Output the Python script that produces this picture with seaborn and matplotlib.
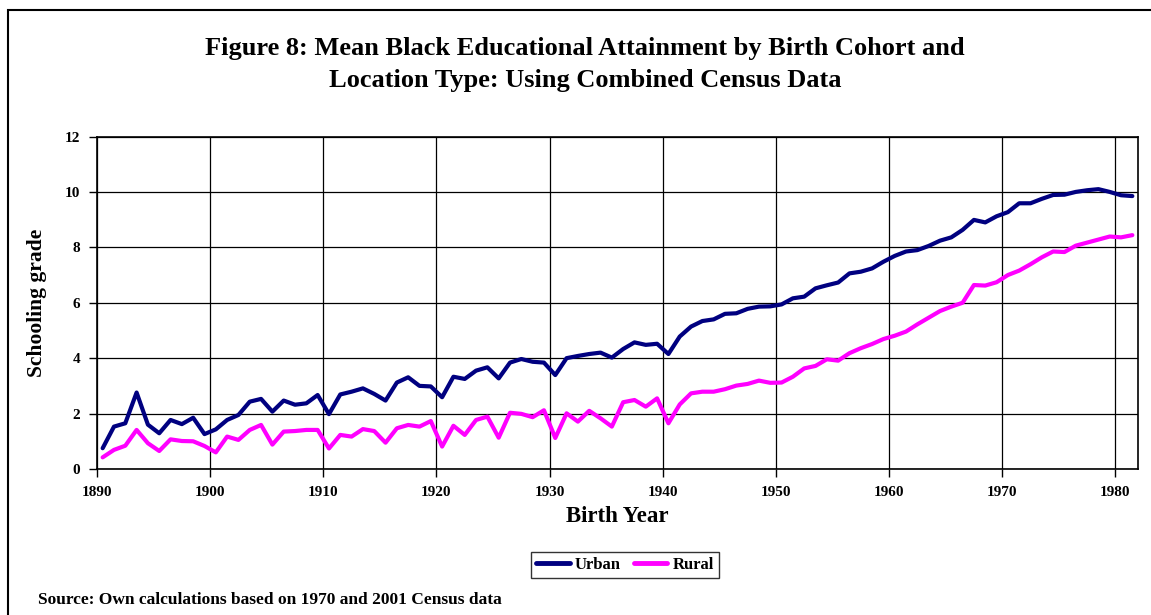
import numpy as np
import pandas as pd
import matplotlib
matplotlib.use("Agg")
import matplotlib.pyplot as plt
import seaborn as sns
from matplotlib.patches import Rectangle
from matplotlib.lines import Line2D

years = list(range(1890, 1982))
urban = [0.75, 1.53, 1.65, 2.76, 1.60, 1.29, 1.77, 1.62, 1.85, 1.26,
         1.43, 1.77, 1.95, 2.43, 2.53, 2.07, 2.47, 2.32, 2.37, 2.67,
         1.98, 2.69, 2.79, 2.91, 2.71, 2.47, 3.12, 3.31, 3.00, 2.98,
         2.59, 3.33, 3.25, 3.55, 3.67, 3.27, 3.84, 3.97, 3.87, 3.84,
         3.39, 4.00, 4.08, 4.15, 4.20, 4.02, 4.33, 4.57, 4.48, 4.52,
         4.15, 4.78, 5.14, 5.34, 5.40, 5.60, 5.62, 5.78, 5.86, 5.87,
         5.94, 6.16, 6.22, 6.52, 6.63, 6.73, 7.06, 7.12, 7.24, 7.48,
         7.69, 7.85, 7.90, 8.05, 8.24, 8.36, 8.63, 8.99, 8.90, 9.12,
         9.27, 9.59, 9.59, 9.75, 9.89, 9.90, 10.00, 10.06, 10.10, 10.00,
         9.88, 9.85]
rural = [0.42, 0.69, 0.84, 1.41, 0.93, 0.65, 1.07, 1.01, 1.00, 0.83,
         0.60, 1.17, 1.05, 1.41, 1.59, 0.88, 1.35, 1.37, 1.41, 1.41,
         0.74, 1.23, 1.17, 1.44, 1.37, 0.95, 1.47, 1.59, 1.53, 1.73,
         0.81, 1.56, 1.23, 1.77, 1.89, 1.13, 2.03, 1.99, 1.87, 2.12,
         1.12, 2.01, 1.71, 2.10, 1.83, 1.53, 2.41, 2.49, 2.25, 2.55,
         1.65, 2.33, 2.73, 2.79, 2.79, 2.88, 3.01, 3.07, 3.19, 3.11,
         3.12, 3.33, 3.63, 3.72, 3.96, 3.91, 4.18, 4.36, 4.51, 4.69,
         4.81, 4.96, 5.22, 5.46, 5.70, 5.86, 6.00, 6.64, 6.62, 6.74,
         7.00, 7.16, 7.39, 7.64, 7.85, 7.83, 8.06, 8.17, 8.28, 8.39,
         8.36, 8.44]
series_names = ["Urban", "Rural"]
colors = ["#000080", "#FF00FF"]
tick_years = list(range(1890, 1990, 10))
y_ticks = [0, 2, 4, 6, 8, 10, 12]

df = pd.DataFrame({
    "Birth Year": years * 2,
    "Schooling grade": urban + rural,
    "Location": ["Urban"] * len(years) + ["Rural"] * len(years),
})

sns.set_style("white")
plt.rcParams["font.family"] = ["Liberation Serif", "DejaVu Serif"]
plt.rcParams["font.weight"] = "bold"
plt.rcParams["text.color"] = "black"
plt.rcParams["axes.labelcolor"] = "black"
plt.rcParams["xtick.color"] = "black"
plt.rcParams["ytick.color"] = "black"

fig = plt.figure(figsize=(11.51, 6.15), dpi=100)
ax = fig.add_axes([97 / 1151, 1 - 469 / 615, (1138 - 97) / 1151, (469 - 136.5) / 615])

sns.lineplot(data=df, x="Birth Year", y="Schooling grade", hue="Location",
             palette=dict(zip(series_names, colors)), linewidth=3,
             ax=ax, legend=False)

ax.set_xlim(years[0] - 0.5, years[-1] + 0.5)
ax.set_ylim(0, 12)
ax.set_xticks([t - 0.5 for t in tick_years])
ax.set_xticklabels([str(t) for t in tick_years], fontsize=11, fontweight="bold")
ax.set_yticks(y_ticks)
ax.set_yticklabels([str(t) for t in y_ticks], fontsize=11, fontweight="bold")
ax.grid(True, color="black", linewidth=0.9)
ax.set_axisbelow(True)
for s in ax.spines.values():
    s.set_color("black")
    s.set_linewidth(1.2)
ax.tick_params(axis="both", direction="out", length=6, width=1, color="black",
               left=True, bottom=True, pad=6)
ax.set_xlabel("Birth Year", fontsize=16.5, fontweight="bold", labelpad=5)
ax.set_ylabel("Schooling grade", fontsize=15.5, fontweight="bold", labelpad=13)

fig.text(0.5 * (177 + 993) / 1151, 1 - 49 / 615,
         "Figure 8: Mean Black Educational Attainment by Birth Cohort and",
         ha="center", va="center", fontsize=19, fontweight="bold")
fig.text(0.5 * (177 + 993) / 1151, 1 - 81 / 615,
         "Location Type: Using Combined Census Data",
         ha="center", va="center", fontsize=19, fontweight="bold")

handles = [Line2D([0], [0], color=c, linewidth=3.5) for c in colors]
leg = fig.legend(handles, series_names, loc="center", ncol=2,
                 bbox_to_anchor=(625 / 1151, 1 - 565 / 615),
                 frameon=True, fancybox=False, edgecolor="black",
                 prop={"size": 12, "weight": "bold"}, handlelength=2.0,
                 handletextpad=0.3, columnspacing=0.8, borderpad=0.3)
leg.get_frame().set_linewidth(1.0)

fig.text(38 / 1151, 1 - 600 / 615,
         "Source: Own calculations based on 1970 and 2001 Census data",
         ha="left", va="center", fontsize=12.5, fontweight="bold")

fig.patches.append(Rectangle((8 / 1151, -10 / 615), 1160 / 1151, 615 / 615,
                             transform=fig.transFigure, fill=False,
                             edgecolor="black", linewidth=1.5, clip_on=False))

fig.savefig("out.png", dpi=100)
